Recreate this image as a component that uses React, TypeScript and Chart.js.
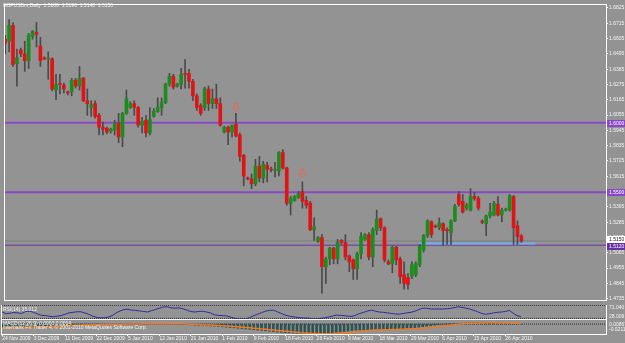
import React, { useEffect, useRef } from "react";
import { Chart, registerables } from "chart.js";
Chart.register(...registerables);

const FONT = "'Liberation Sans', Arial, sans-serif";
const BG = "#939393";
const TEXT = "#f6f6f6";

const symbolTitle = "GBPUSDm,Daily  1.5186  1.5196  1.5140  1.5150";
const rsiTitle = "RSI(14) 35.012";
const macdTitle = "MACD(12,26,9) 0.0003 0.0014";
const copyright = "Interbank FX Trader 4, \u00a9 2001-2010 MetaQuotes Software Corp.";

const dateLabels = ["24 Nov 2009", "3 Dec 2009", "11 Dec 2009", "22 Dec 2009", "5 Jan 2010", "12 Jan 2010", "21 Jan 2010", "1 Feb 2010", "9 Feb 2010", "18 Feb 2010", "26 Feb 2010", "9 Mar 2010", "18 Mar 2010", "29 Mar 2010", "6 Apr 2010", "15 Apr 2010", "26 Apr 2010"];
const dateLabelBars = [0, 8, 16, 24, 32, 40, 48, 56, 64, 72, 80, 88, 96, 104, 112, 120, 128];

const priceTicks = [1.6825, 1.6715, 1.6605, 1.6495, 1.6385, 1.6275, 1.6165, 1.6055, 1.5945, 1.5835, 1.5725, 1.5615, 1.5505, 1.5395, 1.5285, 1.5175, 1.5065, 1.4955, 1.4845, 1.4735];

const opens = [1.6600, 1.6586, 1.6699, 1.6425, 1.6523, 1.6495, 1.6446, 1.6621, 1.6649, 1.6551, 1.6462, 1.6458, 1.6460, 1.6235, 1.6277, 1.6270, 1.6216, 1.6221, 1.6305, 1.6263, 1.6319, 1.6158, 1.6109, 1.6137, 1.6053, 1.5968, 1.5961, 1.5940, 1.5947, 1.5997, 1.5898, 1.6067, 1.6109, 1.6137, 1.6109, 1.5983, 1.6018, 1.5926, 1.6046, 1.6081, 1.6109, 1.6144, 1.6277, 1.6334, 1.6263, 1.6277, 1.6355, 1.6355, 1.6298, 1.6193, 1.6123, 1.6109, 1.6242, 1.6137, 1.6172, 1.6137, 1.5933, 1.5968, 1.5933, 1.5990, 1.5912, 1.5765, 1.5598, 1.5596, 1.5561, 1.5688, 1.5603, 1.5695, 1.5662, 1.5658, 1.5653, 1.5786, 1.5674, 1.5421, 1.5442, 1.5463, 1.5505, 1.5442, 1.5421, 1.5231, 1.5147, 1.5175, 1.4965, 1.5021, 1.5098, 1.5021, 1.5154, 1.5140, 1.5042, 1.5014, 1.4951, 1.5056, 1.5161, 1.5196, 1.5035, 1.5224, 1.5309, 1.5245, 1.5000, 1.4986, 1.5105, 1.5021, 1.4908, 1.4887, 1.4894, 1.4908, 1.4979, 1.5084, 1.5189, 1.5288, 1.5259, 1.5245, 1.5274, 1.5231, 1.5210, 1.5295, 1.5484, 1.5435, 1.5386, 1.5372, 1.5470, 1.5456, 1.5290, 1.5274, 1.5330, 1.5337, 1.5414, 1.5337, 1.5372, 1.5372, 1.5470, 1.5259, 1.5186];
const highs = [1.6628, 1.6741, 1.6720, 1.6530, 1.6537, 1.6586, 1.6642, 1.6663, 1.6720, 1.6614, 1.6474, 1.6509, 1.6467, 1.6348, 1.6348, 1.6284, 1.6228, 1.6319, 1.6319, 1.6404, 1.6326, 1.6242, 1.6158, 1.6158, 1.6067, 1.6004, 1.5968, 1.5961, 1.6018, 1.6067, 1.6074, 1.6235, 1.6151, 1.6158, 1.6116, 1.6039, 1.6053, 1.6109, 1.6102, 1.6179, 1.6179, 1.6284, 1.6355, 1.6348, 1.6284, 1.6390, 1.6453, 1.6383, 1.6312, 1.6207, 1.6137, 1.6256, 1.6263, 1.6242, 1.6277, 1.6179, 1.5975, 1.5975, 1.5983, 1.6067, 1.5926, 1.5772, 1.5610, 1.5632, 1.5737, 1.5758, 1.5723, 1.5716, 1.5681, 1.5716, 1.5793, 1.5807, 1.5681, 1.5470, 1.5477, 1.5505, 1.5575, 1.5470, 1.5435, 1.5316, 1.5182, 1.5196, 1.5035, 1.5105, 1.5105, 1.5161, 1.5161, 1.5196, 1.5049, 1.5021, 1.5070, 1.5210, 1.5203, 1.5210, 1.5245, 1.5372, 1.5316, 1.5252, 1.5014, 1.5112, 1.5112, 1.5035, 1.5000, 1.4915, 1.5000, 1.5000, 1.5126, 1.5196, 1.5302, 1.5295, 1.5266, 1.5316, 1.5281, 1.5245, 1.5302, 1.5414, 1.5505, 1.5484, 1.5421, 1.5526, 1.5498, 1.5470, 1.5302, 1.5337, 1.5421, 1.5435, 1.5470, 1.5386, 1.5386, 1.5484, 1.5477, 1.5295, 1.5196];
const lows = [1.6495, 1.6509, 1.6404, 1.6263, 1.6474, 1.6369, 1.6390, 1.6600, 1.6544, 1.6404, 1.6453, 1.6312, 1.6228, 1.6165, 1.6207, 1.6214, 1.6200, 1.6193, 1.6249, 1.6235, 1.6151, 1.6053, 1.6046, 1.6032, 1.5912, 1.5912, 1.5919, 1.5926, 1.5912, 1.5856, 1.5828, 1.6060, 1.6102, 1.6053, 1.5968, 1.5926, 1.5898, 1.5912, 1.6039, 1.6074, 1.6053, 1.6137, 1.6263, 1.6242, 1.6256, 1.6242, 1.6249, 1.6249, 1.6158, 1.6088, 1.6053, 1.6088, 1.6088, 1.6102, 1.6102, 1.5975, 1.5926, 1.5842, 1.5898, 1.5898, 1.5723, 1.5547, 1.5589, 1.5526, 1.5547, 1.5575, 1.5568, 1.5575, 1.5646, 1.5610, 1.5617, 1.5667, 1.5407, 1.5337, 1.5435, 1.5456, 1.5386, 1.5386, 1.5224, 1.5154, 1.5140, 1.4775, 1.4845, 1.4979, 1.4986, 1.4986, 1.5126, 1.5014, 1.4930, 1.4873, 1.4873, 1.5021, 1.5154, 1.5014, 1.4965, 1.5196, 1.5224, 1.5000, 1.4979, 1.4922, 1.4979, 1.4845, 1.4803, 1.4803, 1.4880, 1.4894, 1.4965, 1.5070, 1.5175, 1.5175, 1.5245, 1.5231, 1.5119, 1.5126, 1.5126, 1.5288, 1.5400, 1.5351, 1.5372, 1.5365, 1.5442, 1.5372, 1.5274, 1.5189, 1.5316, 1.5330, 1.5330, 1.5288, 1.5365, 1.5365, 1.5126, 1.5126, 1.5140];
const closes = [1.6572, 1.6699, 1.6418, 1.6467, 1.6495, 1.6446, 1.6628, 1.6656, 1.6635, 1.6446, 1.6458, 1.6462, 1.6242, 1.6277, 1.6275, 1.6242, 1.6214, 1.6305, 1.6263, 1.6319, 1.6158, 1.6137, 1.6130, 1.6046, 1.5968, 1.5954, 1.5933, 1.5954, 1.5997, 1.5898, 1.6067, 1.6172, 1.6137, 1.6109, 1.5983, 1.6011, 1.5926, 1.6025, 1.6081, 1.6109, 1.6144, 1.6277, 1.6334, 1.6256, 1.6277, 1.6348, 1.6348, 1.6298, 1.6193, 1.6109, 1.6067, 1.6242, 1.6137, 1.6172, 1.6137, 1.5983, 1.5968, 1.5933, 1.5983, 1.5905, 1.5758, 1.5617, 1.5596, 1.5561, 1.5688, 1.5603, 1.5702, 1.5667, 1.5660, 1.5661, 1.5786, 1.5674, 1.5421, 1.5456, 1.5470, 1.5491, 1.5435, 1.5407, 1.5231, 1.5252, 1.5175, 1.4965, 1.5021, 1.5098, 1.5021, 1.5140, 1.5140, 1.5035, 1.5000, 1.4951, 1.5056, 1.5182, 1.5196, 1.5035, 1.5231, 1.5309, 1.5245, 1.5014, 1.4986, 1.5105, 1.5014, 1.4894, 1.4845, 1.4838, 1.4979, 1.4986, 1.5112, 1.5189, 1.5295, 1.5196, 1.5252, 1.5281, 1.5224, 1.5224, 1.5295, 1.5400, 1.5414, 1.5358, 1.5407, 1.5470, 1.5456, 1.5386, 1.5286, 1.5330, 1.5358, 1.5421, 1.5337, 1.5372, 1.5379, 1.5477, 1.5245, 1.5182, 1.5150];

const rsiValues = [49.4, 44.3, 46.0, 47.7, 46.8, 45.1, 51.1, 51.9, 48.5, 43.5, 39.2, 38.4, 36.7, 35.0, 36.7, 38.4, 42.6, 46.8, 48.5, 50.2, 50.2, 46.8, 42.6, 36.7, 33.3, 31.6, 31.6, 34.1, 38.4, 46.8, 52.8, 57.0, 57.8, 55.3, 54.5, 52.8, 51.1, 49.4, 53.6, 57.0, 61.2, 64.6, 65.5, 62.1, 61.2, 62.1, 59.5, 55.3, 51.1, 49.4, 51.1, 51.9, 49.4, 46.8, 40.9, 39.2, 38.4, 37.5, 34.1, 30.8, 28.2, 28.2, 28.2, 32.5, 38.4, 42.6, 47.7, 51.9, 54.5, 55.3, 50.2, 45.1, 40.1, 36.7, 35.0, 33.3, 31.6, 30.8, 30.8, 28.2, 28.2, 29.9, 31.6, 34.1, 36.7, 40.1, 39.2, 38.4, 36.7, 35.8, 40.1, 45.1, 48.5, 52.8, 55.3, 51.9, 49.4, 48.5, 46.8, 45.1, 43.5, 42.6, 45.1, 46.8, 48.5, 51.9, 57.0, 61.2, 61.2, 58.7, 58.7, 58.7, 58.7, 59.5, 60.4, 62.9, 65.5, 63.8, 61.2, 58.7, 54.5, 50.2, 45.1, 42.6, 44.3, 46.8, 48.5, 49.4, 51.1, 54.5, 46.0, 38.4, 35.0];
const rsiLevels = [70, 30];

const macdValues = [-0.0076, -0.0073, -0.0071, -0.0069, -0.0065, -0.0061, -0.0057, -0.0053, -0.0049, -0.0045, -0.0041, -0.0037, -0.0033, -0.0030, -0.0027, -0.0024, -0.0021, -0.0018, -0.0015, -0.0012, -0.0010, -0.0008, -0.0006, -0.0005, -0.0003, -0.0002, -0.0001, 0.0001, 0.0002, 0.0003, 0.0004, 0.0005, 0.0006, 0.0006, 0.0007, 0.0008, 0.0008, 0.0009, 0.0009, 0.0009, 0.0008, 0.0006, 0.0003, 0.0001, -0.0002, -0.0006, -0.0010, -0.0014, -0.0018, -0.0022, -0.0026, -0.0030, -0.0035, -0.0040, -0.0045, -0.0050, -0.0057, -0.0065, -0.0073, -0.0080, -0.0088, -0.0096, -0.0104, -0.0112, -0.0120, -0.0128, -0.0136, -0.0144, -0.0152, -0.0160, -0.0168, -0.0175, -0.0183, -0.0188, -0.0193, -0.0198, -0.0202, -0.0207, -0.0208, -0.0208, -0.0207, -0.0201, -0.0195, -0.0189, -0.0183, -0.0176, -0.0167, -0.0158, -0.0148, -0.0139, -0.0129, -0.0126, -0.0124, -0.0121, -0.0119, -0.0116, -0.0114, -0.0112, -0.0109, -0.0106, -0.0104, -0.0101, -0.0098, -0.0090, -0.0082, -0.0073, -0.0065, -0.0057, -0.0046, -0.0035, -0.0024, -0.0013, -0.0003, 0.0007, 0.0010, 0.0013, 0.0016, 0.0019, 0.0022, 0.0024, 0.0026, 0.0026, 0.0025, 0.0024, 0.0022, 0.0021, 0.0019, 0.0016, 0.0014, 0.0012, 0.0009, 0.0006, 0.0003];
const signalValues = [-0.0081, -0.0080, -0.0079, -0.0078, -0.0076, -0.0075, -0.0073, -0.0071, -0.0069, -0.0065, -0.0061, -0.0057, -0.0053, -0.0049, -0.0045, -0.0041, -0.0037, -0.0033, -0.0030, -0.0027, -0.0024, -0.0021, -0.0018, -0.0015, -0.0012, -0.0010, -0.0008, -0.0006, -0.0005, -0.0003, -0.0002, -0.0001, 0.0001, 0.0002, 0.0003, 0.0004, 0.0005, 0.0006, 0.0006, 0.0007, 0.0007, 0.0007, 0.0007, 0.0007, 0.0007, 0.0007, 0.0005, 0.0002, -0.0002, -0.0006, -0.0010, -0.0014, -0.0018, -0.0022, -0.0026, -0.0030, -0.0035, -0.0040, -0.0045, -0.0050, -0.0057, -0.0065, -0.0073, -0.0080, -0.0088, -0.0096, -0.0104, -0.0112, -0.0120, -0.0128, -0.0136, -0.0144, -0.0152, -0.0160, -0.0168, -0.0175, -0.0183, -0.0188, -0.0193, -0.0198, -0.0202, -0.0207, -0.0208, -0.0208, -0.0207, -0.0201, -0.0195, -0.0189, -0.0183, -0.0176, -0.0167, -0.0158, -0.0148, -0.0139, -0.0129, -0.0126, -0.0124, -0.0121, -0.0119, -0.0116, -0.0114, -0.0112, -0.0109, -0.0106, -0.0104, -0.0101, -0.0098, -0.0090, -0.0082, -0.0073, -0.0065, -0.0057, -0.0046, -0.0035, -0.0024, -0.0013, -0.0003, 0.0007, 0.0010, 0.0013, 0.0016, 0.0019, 0.0022, 0.0024, 0.0026, 0.0026, 0.0025, 0.0024, 0.0022, 0.0021, 0.0019, 0.0016, 0.0014];

// horizontal objects
const upperLevel = 1.6000;
const lowerLevel = 1.5500;
const supportLevel = 1.5120;
const bidPrice = 1.5150;
const blueLineStart = 105.9;
const blueLineEnd = 135.6;
const blueLinePrice = 1.5132;
const arrowBars = [59, 76];
const arrowPrices = [1.6112, 1.5632];

// axis ranges
const X_MIN = -0.05;
const X_MAX = 153.64;
const P_MIN = 1.47259;
const P_MAX = 1.6846;
const RSI_MIN = 28.009;
const RSI_MAX = 71.04;
const MACD_MIN = -0.0211;
const MACD_MAX = 0.00867;

const BULL = "#1c8c1c";
const BEAR = "#e01414";
const WICK = "#4a4a4a";
const PURPLE = "#8a48c8";

function framePlugin(drawTop: boolean) {
  return {
    id: "frame",
    beforeDraw(chart: any) {
      const { ctx, width, height } = chart;
      ctx.save();
      ctx.fillStyle = BG;
      ctx.fillRect(0, 0, width, height);
      ctx.restore();
    },
    afterDraw(chart: any) {
      const { ctx, chartArea: a } = chart;
      ctx.save();
      ctx.fillStyle = "#ffffff";
      const t = drawTop ? a.top - 1 : a.top;
      if (drawTop) ctx.fillRect(a.left - 1, a.top - 1, a.right - a.left + 2, 1);
      ctx.fillRect(a.left - 1, a.bottom, a.right - a.left + 2, 1);
      ctx.fillRect(a.left - 1, t, 1, a.bottom - t + 1);
      ctx.fillRect(a.right, t, 1, a.bottom - t + 1);
      ctx.restore();
    },
  };
}

function textPlugin(items: { text: string; x: number; y: number; color?: string }[], yScaleId?: string, tags?: { value: number; text: string; bg: string; fg: string; dy: number }[]) {
  return {
    id: "texts",
    afterDraw(chart: any) {
      const { ctx, chartArea: a } = chart;
      ctx.save();
      ctx.font = `5px ${FONT}`;
      ctx.textBaseline = "middle";
      ctx.textAlign = "left";
      if (tags && yScaleId) {
        const s = chart.scales[yScaleId];
        for (const t of tags) {
          const y = Math.round(s.getPixelForValue(t.value)) + t.dy;
          ctx.fillStyle = t.bg;
          ctx.fillRect(a.right + 1, y - 3, 19, 7);
          ctx.fillStyle = t.fg;
          ctx.fillText(t.text, a.right + 3, y + 0.5);
        }
      }
      for (const it of items) {
        ctx.fillStyle = it.color || TEXT;
        ctx.fillText(it.text, it.x, it.y);
      }
      ctx.restore();
    },
  };
}

function makeArrow(): HTMLCanvasElement {
  const c = document.createElement("canvas");
  c.width = 8;
  c.height = 9;
  const g = c.getContext("2d")!;
  g.strokeStyle = "#e8685a";
  g.lineWidth = 1;
  g.beginPath();
  g.moveTo(2.5, 0.5);
  g.lineTo(5.5, 0.5);
  g.lineTo(5.5, 4.5);
  g.lineTo(7.5, 4.5);
  g.lineTo(4, 8.5);
  g.lineTo(0.5, 4.5);
  g.lineTo(2.5, 4.5);
  g.closePath();
  g.stroke();
  return c;
}

const baseOpts = {
  animation: false,
  responsive: false,
  maintainAspectRatio: false,
  devicePixelRatio: 1,
  events: [],
  plugins: { legend: { display: false }, tooltip: { enabled: false } },
};

function hLine(y: number, color: string, width: number, from = X_MIN, to = X_MAX, order = 10, dash: number[] = []) {
  return {
    type: "line",
    data: [{ x: from, y }, { x: to, y }],
    borderColor: color,
    borderWidth: width,
    borderDash: dash,
    pointRadius: 0,
    order,
  };
}

function sideAxis(min: number, max: number) {
  return {
    position: "right",
    min,
    max,
    afterFit: (s: any) => {
      s.width = 19;
      s.paddingTop = 0;
      s.paddingBottom = 0;
    },
    ticks: { display: false },
    grid: { display: false, drawTicks: false },
    border: { display: false },
  };
}

export default function App() {
  const mainRef = useRef<HTMLCanvasElement>(null);
  const rsiRef = useRef<HTMLCanvasElement>(null);
  const macdRef = useRef<HTMLCanvasElement>(null);

  useEffect(() => {
    const idx = closes.map((_, i) => i);
    const arrow = makeArrow();
    const charts: Chart[] = [];

    const main = new Chart(mainRef.current!, {
      type: "bar",
      data: {
        datasets: [
          hLine(upperLevel, PURPLE, 2),
          hLine(lowerLevel, PURPLE, 2),
          hLine(bidPrice, "#7f7f7f", 1),
          hLine(supportLevel, "#6a2fa0", 1),
          hLine(blueLinePrice, "#6fb2ee", 2, blueLineStart, blueLineEnd, 9),
          {
            type: "bar",
            data: idx.map((i) => ({ x: i, y: [lows[i], highs[i]] })),
            backgroundColor: WICK,
            barThickness: 1,
            grouped: false,
            order: 5,
          },
          {
            type: "bar",
            data: idx.map((i) => ({ x: i, y: [opens[i], closes[i]] })),
            backgroundColor: idx.map((i) => (closes[i] >= opens[i] ? BULL : BEAR)),
            barThickness: 3,
            minBarLength: 1,
            grouped: false,
            order: 1,
          },
          {
            type: "scatter",
            data: arrowBars.map((b, k) => ({ x: b, y: arrowPrices[k] })),
            pointStyle: arrow,
            order: 0,
          },
        ] as any,
      },
      options: {
        ...baseOpts,
        layout: { padding: { left: 2, top: 2, right: 0, bottom: 1 } },
        scales: {
          x: { type: "linear", min: X_MIN, max: X_MAX, offset: false, display: false },
          y: {
            position: "right",
            min: P_MIN,
            max: P_MAX,
            afterFit: (s: any) => {
              s.width = 19;
              s.paddingTop = 0;
              s.paddingBottom = 0;
            },
            afterBuildTicks: (s: any) => {
              s.ticks = priceTicks.map((v) => ({ value: v }));
            },
            ticks: {
              color: TEXT,
              font: { family: FONT, size: 5, lineHeight: 1 },
              padding: 1,
              autoSkip: false,
              callback: (v: any) => Number(v).toFixed(4),
            },
            grid: { drawOnChartArea: false, color: "#ffffff", tickLength: 2 },
            border: { display: false },
          },
        },
      } as any,
      plugins: [
        framePlugin(true),
        textPlugin([{ text: symbolTitle, x: 3, y: 5.5 }], "y", [
          { value: upperLevel, text: upperLevel.toFixed(4), bg: PURPLE, fg: "#ffffff", dy: 0 },
          { value: lowerLevel, text: lowerLevel.toFixed(4), bg: PURPLE, fg: "#ffffff", dy: 0 },
          { value: supportLevel, text: supportLevel.toFixed(4), bg: "#6a2fa0", fg: "#ffffff", dy: 1 },
          { value: bidPrice, text: bidPrice.toFixed(4), bg: "#ffffff", fg: "#202020", dy: -2 },
        ]),
      ] as any,
    });
    charts.push(main);

    const rsi = new Chart(rsiRef.current!, {
      type: "line",
      data: {
        datasets: [
          ...rsiLevels.map((lv) => hLine(lv, "#2a2a2a", 1, X_MIN, X_MAX, 10, [1, 1])),
          {
            type: "line",
            data: idx.map((i) => ({ x: i, y: rsiValues[i] })),
            borderColor: "#2c2c9c",
            borderWidth: 1,
            pointRadius: 0,
            order: 1,
          },
        ] as any,
      },
      options: {
        ...baseOpts,
        layout: { padding: { left: 2, top: 0, right: 0, bottom: 1 } },
        scales: {
          x: { type: "linear", min: X_MIN, max: X_MAX, offset: false, display: false },
          y: sideAxis(RSI_MIN, RSI_MAX),
        },
      } as any,
      plugins: [
        framePlugin(false),
        textPlugin([
          { text: rsiTitle, x: 3, y: 5 },
          { text: "71.040", x: 609, y: 3 },
          { text: "28.009", x: 609, y: 12 },
        ]),
      ] as any,
    });
    charts.push(rsi);

    const macd = new Chart(macdRef.current!, {
      type: "bar",
      data: {
        datasets: [
          hLine(0, "#2a2a2a", 1, X_MIN, X_MAX, 10, [1, 1]),
          {
            type: "bar",
            data: idx.map((i) => ({ x: i, y: macdValues[i] })),
            backgroundColor: "#2e5252",
            barThickness: 2,
            grouped: false,
            order: 5,
          },
          {
            type: "line",
            data: idx.map((i) => ({ x: i, y: signalValues[i] })),
            borderColor: "#f07a22",
            borderWidth: 1.5,
            pointRadius: 0,
            order: 1,
          },
        ] as any,
      },
      options: {
        ...baseOpts,
        layout: { padding: { left: 2, top: 0, right: 0, bottom: 0 } },
        scales: {
          x: {
            type: "linear",
            min: X_MIN,
            max: X_MAX,
            offset: false,
            position: "bottom",
            afterFit: (s: any) => {
              s.height = 9;
              s.paddingLeft = 0;
              s.paddingRight = 0;
            },
            afterBuildTicks: (s: any) => {
              s.ticks = dateLabelBars.map((v) => ({ value: v }));
            },
            ticks: {
              color: TEXT,
              font: { family: FONT, size: 5, lineHeight: 1 },
              padding: 0,
              align: "start",
              autoSkip: false,
              maxRotation: 0,
              minRotation: 0,
              callback: (_v: any, i: number) => dateLabels[i],
            },
            grid: { drawOnChartArea: false, offset: false, color: "#ffffff", tickLength: 2 },
            border: { display: false },
          },
          y: sideAxis(MACD_MIN, MACD_MAX),
        },
      } as any,
      plugins: [
        framePlugin(false),
        textPlugin([
          { text: macdTitle, x: 3, y: 3.5 },
          { text: copyright, x: 3, y: 8 },
          { text: "0.00867", x: 609, y: 4.5 },
          { text: "-0.0211", x: 609, y: 10 },
        ]),
      ] as any,
    });
    charts.push(macd);

    return () => charts.forEach((c) => c.destroy());
  }, []);

  return (
    <div style={{ position: "fixed", left: 0, top: 0, width: 625, height: 343, background: BG, overflow: "hidden" }}>
      <canvas ref={mainRef} width={625} height={305} style={{ position: "absolute", left: 0, top: 0 }} />
      <canvas ref={rsiRef} width={625} height={15} style={{ position: "absolute", left: 0, top: 305 }} />
      <canvas ref={macdRef} width={625} height={23} style={{ position: "absolute", left: 0, top: 320 }} />
    </div>
  );
}
